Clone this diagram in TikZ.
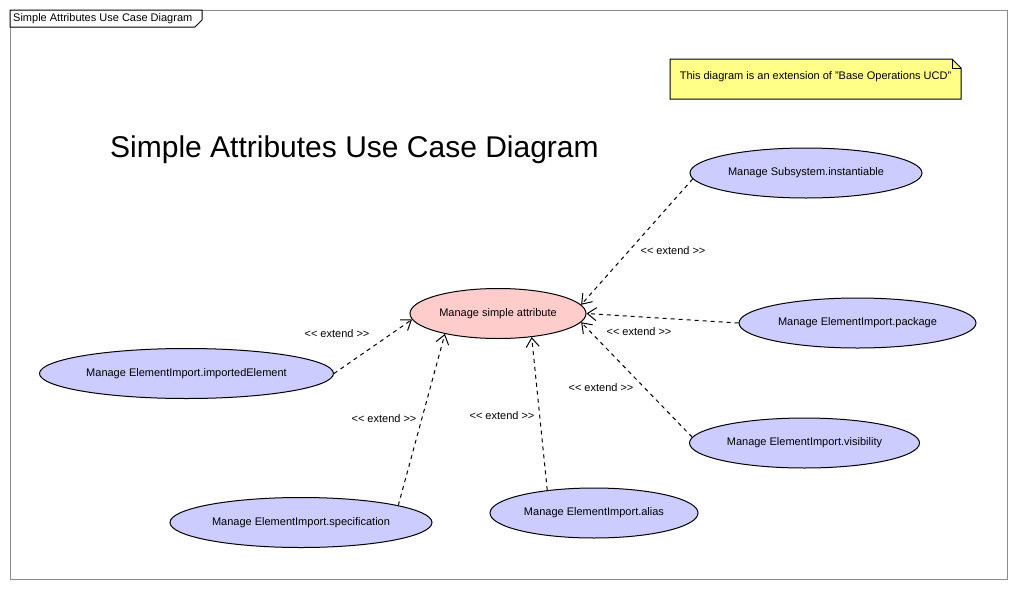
\documentclass[tikz,border=0pt]{standalone}
\usepackage{fontspec}
\setmainfont{Liberation Sans}
\usetikzlibrary{shapes.geometric,arrows.meta}
\definecolor{ucblue}{RGB}{204,204,255}
\definecolor{ucpink}{RGB}{255,204,204}
\definecolor{noteyellow}{RGB}{255,255,136}
\definecolor{framegray}{RGB}{140,140,140}

\begin{document}
\begin{tikzpicture}[x=1pt,y=-1pt,
	small/.style={font=\fontsize{11}{13}\selectfont},
	usecase/.style={draw,ellipse,fill=ucblue,line width=1pt,inner sep=0,minimum height=50pt,small},
	extend/.style={draw,line width=1pt,dash pattern=on 4pt off 4pt,-{Straight Barb[length=9pt,width=13pt,line width=1pt]}},
	lbl/.style={small,inner sep=0}]
	\useasboundingbox (0,0) rectangle (1017,589);
	\draw[framegray,line width=1pt] (10,10) rectangle (1007,579);
	\draw[fill=white,line width=1pt] (10,10) -- (202,10) -- (202,20) -- (195,27) -- (10,27) -- cycle;
	\node[lbl,anchor=west] (frame) at (13,18.5) {Simple Attributes Use Case Diagram};
	\draw[fill=noteyellow,line width=1pt] (670,59) -- (952,59) -- (961,68) -- (961,99) -- (670,99) -- cycle;
	\draw[line width=1pt] (952,59) -- (952,68) -- (961,68);
	\node[lbl] (note) at (815.5,77) {This diagram is an extension of "Base Operations UCD"};
	\node[font=\fontsize{30}{36}\selectfont,inner sep=0,anchor=base west] (title) at (110,157) {Simple Attributes Use Case Diagram};
	\node[usecase,fill=ucpink,minimum width=176pt] (attr) at (498,313.5) {Manage simple attribute};
	\node[usecase,minimum width=232pt] (inst) at (806,173) {Manage Subsystem.instantiable};
	\node[usecase,minimum width=237pt] (pkg) at (857.5,323) {Manage ElementImport.package};
	\node[usecase,minimum width=294pt] (imp) at (186.5,373.5) {Manage ElementImport.importedElement};
	\node[usecase,minimum width=230pt] (vis) at (804.5,443) {Manage ElementImport.visibility};
	\node[usecase,minimum width=262pt] (spec) at (301,522.5) {Manage ElementImport.specification};
	\node[usecase,minimum width=208pt] (alias) at (594,513) {Manage ElementImport.alias};
	\draw[extend] (inst.183) -- (attr.6);
	\draw[extend] (pkg.west) -- (attr.east);
	\draw[extend] (vis.177) -- (attr.354);
	\draw[extend] (imp.east) -- (attr.184);
	\draw[extend] (spec.10) -- (attr.201);
	\draw[extend] (alias.154) -- (attr.325);
	\node[lbl] (e1) at (673,251) {{<}{<} extend {>}{>}};
	\node[lbl] (e2) at (639,332) {{<}{<} extend {>}{>}};
	\node[lbl] (e3) at (601,388) {{<}{<} extend {>}{>}};
	\node[lbl] (e4) at (337,334) {{<}{<} extend {>}{>}};
	\node[lbl] (e5) at (384,419) {{<}{<} extend {>}{>}};
	\node[lbl] (e6) at (502,416) {{<}{<} extend {>}{>}};
\end{tikzpicture}
\end{document}
